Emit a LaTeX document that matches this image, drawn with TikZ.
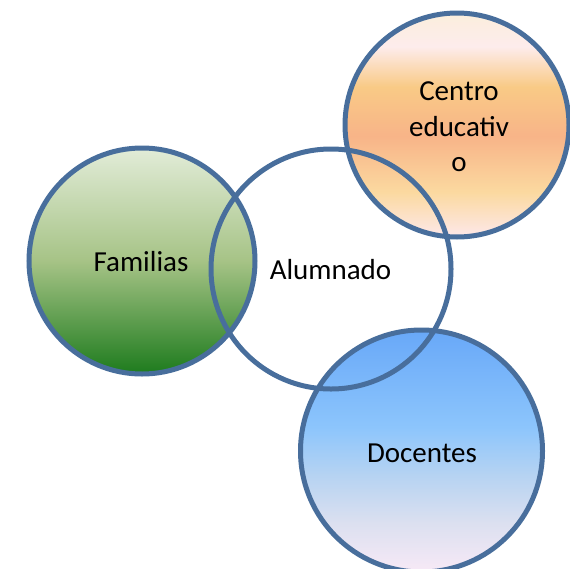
\documentclass[tikz,border=0pt]{standalone}
\usepackage{fontspec}
\setmainfont{Carlito}
\definecolor{ring}{RGB}{72,110,156}
\definecolor{famT}{HTML}{E2ECD8}
\definecolor{famM}{HTML}{A6C386}
\definecolor{famB}{HTML}{1D7B1D}
\definecolor{cenA}{HTML}{FBEEDC}
\definecolor{cenB}{HTML}{FDECEC}
\definecolor{cenC}{HTML}{F9CA86}
\definecolor{cenD}{HTML}{F8B488}
\definecolor{cenE}{HTML}{FBD9A0}
\definecolor{cenF}{HTML}{FDE8EA}
\definecolor{docA}{HTML}{68A8F8}
\definecolor{docB}{HTML}{8CC5FC}
\definecolor{docC}{HTML}{B6D3F2}
\definecolor{docD}{HTML}{DCE0F0}
\definecolor{docE}{HTML}{F7E9F6}
\pgfdeclareverticalshading{famshade}{100bp}{color(0bp)=(famB); color(25bp)=(famB); color(50bp)=(famM); color(75bp)=(famT); color(100bp)=(famT)}
\pgfdeclareverticalshading{censhade}{100bp}{color(0bp)=(cenF); color(25bp)=(cenF); color(35bp)=(cenE); color(47.5bp)=(cenD); color(58.5bp)=(cenC); color(67.5bp)=(cenB); color(75bp)=(cenA); color(100bp)=(cenA)}
\pgfdeclareverticalshading{docshade}{100bp}{color(0bp)=(docE); color(25bp)=(docE); color(35bp)=(docD); color(45bp)=(docC); color(55bp)=(docB); color(75bp)=(docA); color(100bp)=(docA)}
\tikzset{
  ringline/.style={draw=ring, line width=5pt},
  lbl/.style={font=\fontsize{29}{35.5}\selectfont, align=center, inner sep=0pt}
}
\begin{document}
\begin{tikzpicture}[x=1pt,y=-1pt]
\useasboundingbox (0,0) rectangle (570,568);
\path[shading=famshade, ringline] (142,261) circle (113);
\path[shading=censhade, ringline] (457,125) circle (112);
\path[shading=docshade, ringline] (421.5,451) circle (121);
\draw[ringline] (331,269) circle (120);
\node[lbl] (fam) at (141,262) {Familias};
\node[lbl] (alu) at (330.5,270) {Alumnado};
\node[lbl] (cen) at (459,127) {Centro\\educativ\\o};
\node[lbl] (doc) at (422,453) {Docentes};
\end{tikzpicture}
\end{document}
